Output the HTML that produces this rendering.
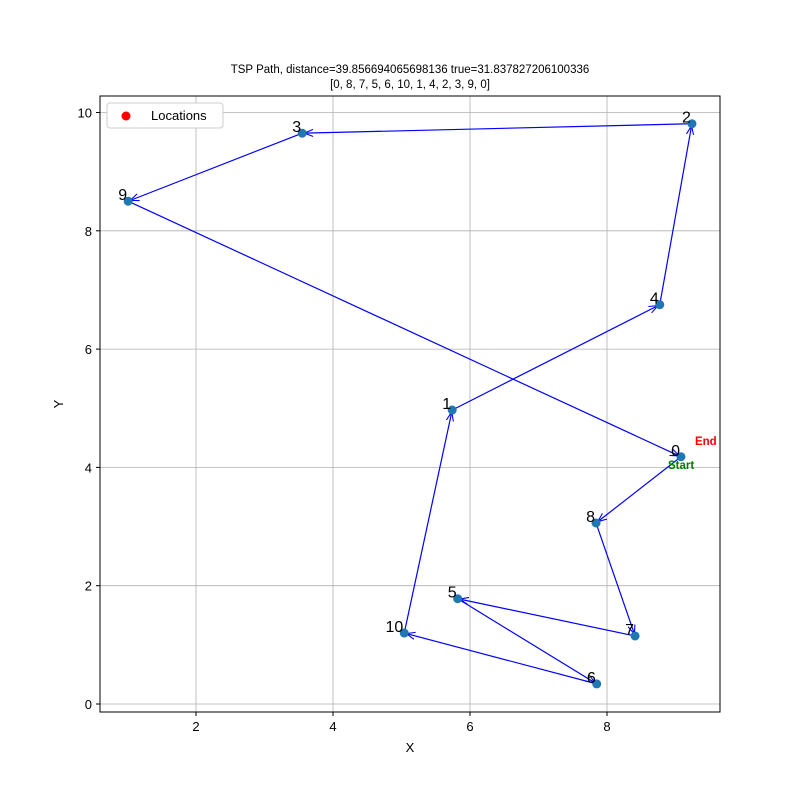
<!DOCTYPE html>
<html><head><meta charset="utf-8"><style>body{margin:0;background:#fff}svg{display:block;font-family:"Liberation Sans","DejaVu Sans",sans-serif}</style></head>
<body>
<svg width="800" height="800" viewBox="0 0 800 800">
<defs><marker id="ah" viewBox="0 0 10 10" refX="10" refY="5" markerWidth="9" markerHeight="9" orient="auto" markerUnits="userSpaceOnUse"><path d="M0,1 L10,5 L0,9" fill="none" stroke="#0000ff" stroke-width="1.2"/></marker></defs>
<g id="grid"></g>
<rect x="100" y="96" width="620" height="616" fill="none" stroke="#000" stroke-width="1"/>
<g id="ticks"></g>
<g id="paths"></g>
<g id="pts"></g>
<text x="410" y="73" font-size="11.5" text-anchor="middle">TSP Path, distance=39.856694065698136 true=31.837827206100336</text>
<text x="410" y="88" font-size="11.5" text-anchor="middle">[0, 8, 7, 5, 6, 10, 1, 4, 2, 3, 9, 0]</text>
<text x="410" y="752" font-size="13" text-anchor="middle">X</text>
<text x="63" y="404" font-size="13" text-anchor="middle" transform="rotate(-90 63 404)">Y</text>
<g>
<rect x="107" y="103" width="116" height="25" rx="3" fill="#fff" stroke="#ccc"/>
<circle cx="126" cy="116" r="4.5" fill="#ff0000"/>
<text x="151" y="120" font-size="13">Locations</text>
</g>
</svg>
<script>
const xs=[9.08,5.74,9.24,3.55,8.77,5.82,7.85,8.41,7.84,1.01,5.04];
const ys=[4.18,4.97,9.81,9.65,6.75,1.78,0.34,1.15,3.06,8.50,1.20];
const route=[0,8,7,5,6,10,1,4,2,3,9,0];
const xTicks=[2,4,6,8];
const yTicks=[0,2,4,6,8,10];
const X=v=>59+v*68.5, Y=v=>704-v*59.15;
const NS='http://www.w3.org/2000/svg';
function mk(t,a,p){const e=document.createElementNS(NS,t);for(const k in a)e.setAttribute(k,a[k]);p.appendChild(e);return e;}
const grid=document.getElementById('grid'),ticks=document.getElementById('ticks'),paths=document.getElementById('paths'),pts=document.getElementById('pts');
xTicks.forEach(v=>{const l=mk('line',{x1:X(v),x2:X(v),y1:96,y2:712,stroke:'#b0b0b0','stroke-width':0.8},grid);

mk('line',{x1:X(v),x2:X(v),y1:712,y2:716,stroke:'#000'},ticks);
const t=mk('text',{x:X(v),y:731,'font-size':13,'text-anchor':'middle'},ticks);t.textContent=v;
});
yTicks.forEach(v=>{const l=mk('line',{x1:100,x2:720,y1:Y(v),y2:Y(v),stroke:'#b0b0b0','stroke-width':0.8},grid);

mk('line',{x1:96,x2:100,y1:Y(v),y2:Y(v),stroke:'#000'},ticks);
const t=mk('text',{x:92,y:Y(v)+5,'font-size':13,'text-anchor':'end'},ticks);t.textContent=v;
});
for(let i=0;i<route.length-1;i++){const a=route[i],b=route[i+1];
let x1=X(xs[a]),y1=Y(ys[a]),x2=X(xs[b]),y2=Y(ys[b]);const dx=x2-x1,dy=y2-y1,d=Math.hypot(dx,dy)||1,s=2;
const l=mk('line',{x1:x1+dx/d*s,y1:y1+dy/d*s,x2:x2-dx/d*s,y2:y2-dy/d*s,stroke:'#0000ff','stroke-width':1.2,'marker-end':'url(#ah)'},paths);
}
xs.forEach((x,i)=>{const c=mk('circle',{cx:X(x),cy:Y(ys[i]),r:4.5,fill:'#1f77b4'},pts);

const t=mk('text',{x:X(x)-1,y:Y(ys[i])-1,'font-size':16,'text-anchor':'end'},pts);t.textContent=i;
});
const st=mk('text',{x:X(xs[0])-13,y:Y(ys[0])+12,'font-size':11.5,'font-weight':'bold',fill:'green'},pts);st.textContent='Start';

const en=mk('text',{x:X(xs[0])+14,y:Y(ys[0])-12,'font-size':11.5,'font-weight':'bold',fill:'red'},pts);en.textContent='End';

</script>
</body></html>
